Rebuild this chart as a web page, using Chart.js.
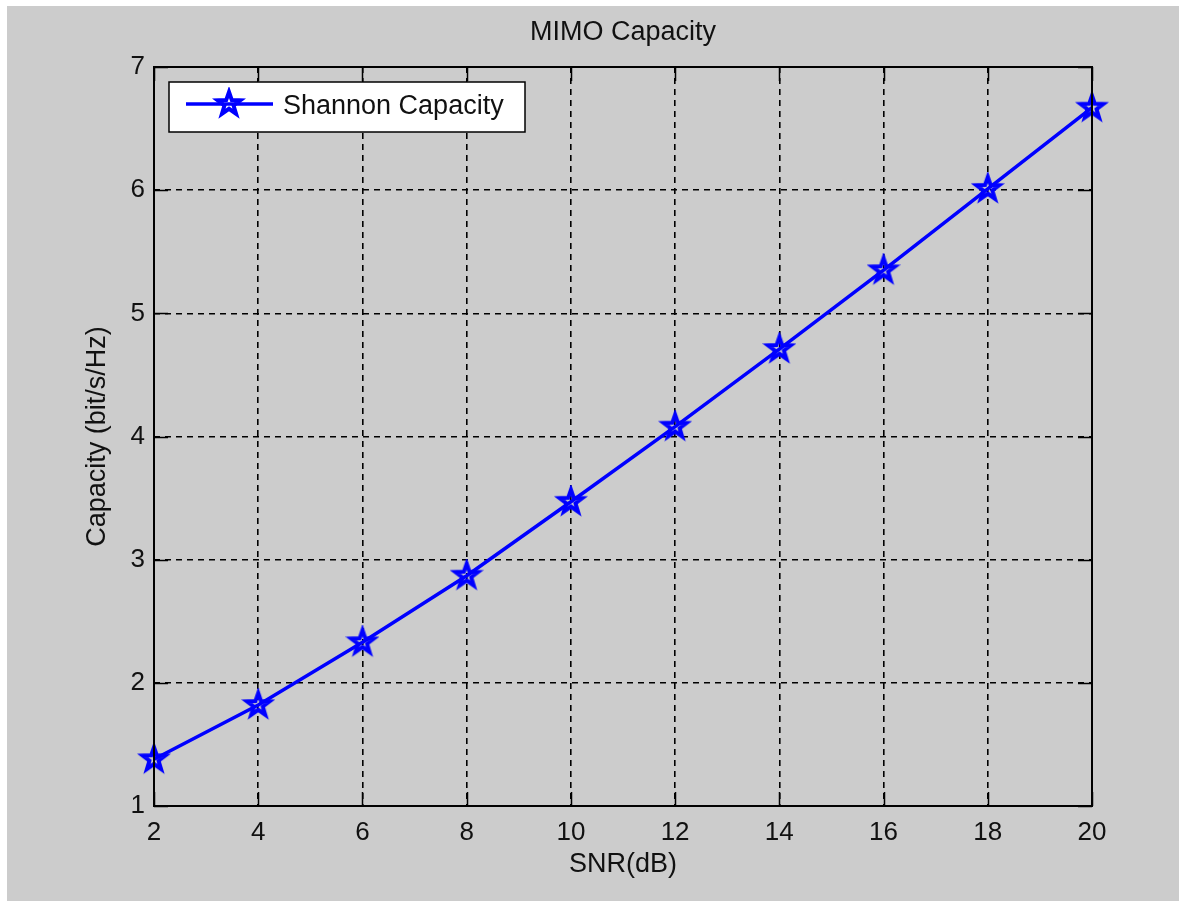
<!DOCTYPE html>
<html>
<head>
<meta charset="utf-8">
<script src="https://cdn.jsdelivr.net/npm/chart.js@4.4.1/dist/chart.umd.min.js"></script>
<style>
  html, body { margin: 0; padding: 0; background: #ffffff; }
  #wrap { position: absolute; left: 7px; top: 6px; width: 1172px; height: 895px; background: #cccccc; }
</style>
</head>
<body>
<div id="wrap"><canvas id="capChart"></canvas></div>
<script>
// Data
const snrDb = [2, 4, 6, 8, 10, 12, 14, 16, 18, 20];
const capacity = [1.38, 1.82, 2.33, 2.87, 3.47, 4.08, 4.71, 5.35, 6.01, 6.67];
const xTicks = [2, 4, 6, 8, 10, 12, 14, 16, 18, 20];
const yTicks = [1, 2, 3, 4, 5, 6, 7];
const seriesName = 'Shannon Capacity';
const titleText = 'MIMO Capacity';
const xTitle = 'SNR(dB)';
const yTitle = 'Capacity (bit/s/Hz)';

Chart.defaults.font.family = "'Liberation Sans', Arial, sans-serif";
Chart.defaults.color = '#111111';

// MATLAB-like pentagram marker
function makeStar() {
    const c = document.createElement('canvas');
    c.width = 34; c.height = 34;
    const g = c.getContext('2d');
    const R = 12, r = R * 0.4;
    g.beginPath();
    for (let i = 0; i < 10; i++) {
        const rad = i % 2 === 0 ? R : r;
        const a = -Math.PI / 2 + i * Math.PI / 5;
        const px = 17 + rad * Math.cos(a), py = 17 + rad * Math.sin(a);
        if (i === 0) g.moveTo(px, py); else g.lineTo(px, py);
    }
    g.closePath();
    g.strokeStyle = '#0000ff';
    g.lineWidth = 4;
    g.lineJoin = 'miter';
    g.stroke();
    return c;
}
const starImg = makeStar();

// box, inward ticks, titles and the legend
const matlabDecor = {
    id: 'matlabDecor',
    afterDatasetsDraw(chart) {
        const ctx = chart.ctx;
        const a = chart.chartArea;
        const xs = chart.scales.x, ys = chart.scales.y;
        const tickLen = 14;
        ctx.save();
        ctx.strokeStyle = '#000000';
        ctx.lineWidth = 1.5;
        ctx.beginPath();
        xTicks.forEach(v => {
            const px = Math.round(xs.getPixelForValue(v)) + 0.5;
            ctx.moveTo(px, a.bottom); ctx.lineTo(px, a.bottom - tickLen);
            ctx.moveTo(px, a.top); ctx.lineTo(px, a.top + tickLen);
        });
        yTicks.forEach(v => {
            const py = Math.round(ys.getPixelForValue(v)) + 0.5;
            ctx.moveTo(a.left, py); ctx.lineTo(a.left + tickLen, py);
            ctx.moveTo(a.right, py); ctx.lineTo(a.right - tickLen, py);
        });
        ctx.stroke();
        ctx.lineWidth = 2;
        ctx.strokeRect(a.left, a.top, a.right - a.left, a.bottom - a.top);

        // legend
        const lx = 162, ly = 76, lw = 356, lh = 50;
        ctx.fillStyle = '#ffffff';
        ctx.fillRect(lx, ly, lw, lh);
        ctx.lineWidth = 1.5;
        ctx.strokeRect(lx, ly, lw, lh);
        ctx.strokeStyle = '#0000ff';
        ctx.lineWidth = 3.5;
        ctx.beginPath();
        ctx.moveTo(179, 98); ctx.lineTo(266, 98);
        ctx.stroke();
        ctx.drawImage(starImg, 222 - 17, 98 - 17);
        ctx.fillStyle = '#111111';
        ctx.font = "27px 'Liberation Sans', Arial, sans-serif";
        ctx.textAlign = 'left';
        ctx.textBaseline = 'middle';
        ctx.fillText(seriesName, 276, 101);

        // titles
        const cx = (a.left + a.right) / 2;
        ctx.textAlign = 'center';
        ctx.fillText(titleText, cx, 27);
        ctx.fillText(xTitle, cx, 859);
        ctx.translate(91, (a.top + a.bottom) / 2);
        ctx.rotate(-Math.PI / 2);
        ctx.fillText(yTitle, 0, 0);
        ctx.restore();
    }
};

const gridOpts = {
    color: '#000000',
    lineWidth: 1.6,
    drawTicks: false
};

new Chart(document.getElementById('capChart'), {
    type: 'line',
    data: {
        datasets: [{
            label: seriesName,
            data: snrDb.map((x, i) => ({ x: x, y: capacity[i] })),
            borderColor: '#0000ff',
            backgroundColor: '#0000ff',
            borderWidth: 3.5,
            tension: 0,
            clip: false,
            pointStyle: starImg,
            pointRadius: 13,
            pointHoverRadius: 13
        }]
    },
    options: {
        responsive: true,
        maintainAspectRatio: false,
        animation: false,
        layout: { padding: { top: 61, left: 0, right: 87, bottom: 0 } },
        plugins: {
            legend: { display: false },
            title: { display: false },
            tooltip: { enabled: false }
        },
        scales: {
            x: {
                type: 'linear',
                min: 2, max: 20,
                afterBuildTicks: s => { s.ticks = xTicks.map(v => ({ value: v })); },
                afterFit: s => { s.height = 95; },
                grid: gridOpts,
                border: { display: false, dash: [6, 5] },
                ticks: { padding: 11, font: { size: 26 }, color: '#111111', maxRotation: 0 }
            },
            y: {
                type: 'linear',
                min: 1, max: 7,
                afterBuildTicks: s => { s.ticks = yTicks.map(v => ({ value: v })); },
                afterFit: s => { s.width = 147; },
                grid: gridOpts,
                border: { display: false, dash: [6, 5] },
                ticks: { padding: 9, font: { size: 26 }, color: '#111111' }
            }
        }
    },
    plugins: [matlabDecor]
});
</script>
</body>
</html>
